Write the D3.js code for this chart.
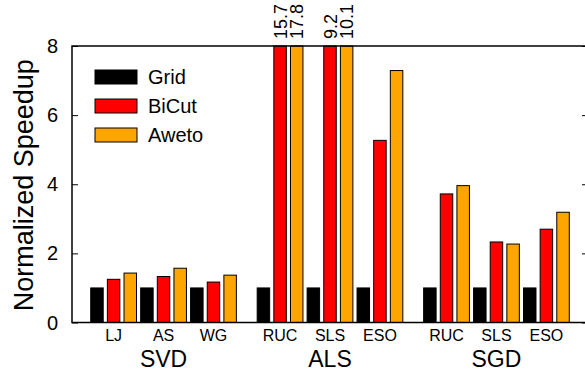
<!DOCTYPE html>
<html><head><meta charset="utf-8">
<script src="https://cdn.jsdelivr.net/npm/d3@7"></script>
<style>
html,body{margin:0;padding:0;background:#fff;}
svg{display:block;font-family:"Liberation Sans",Arial,Helvetica,sans-serif;}
</style></head>
<body><svg id="c" width="585" height="375"></svg>
<script>
const groups = ["SVD", "ALS", "SGD"];
const categories = [["LJ", "AS", "WG"], ["RUC", "SLS", "ESO"], ["RUC", "SLS", "ESO"]];
const seriesNames = ["Grid", "BiCut", "Aweto"];
const seriesColors = ["#000000", "#ff0000", "#ffa500"];
const grid  = [[1, 1, 1], [1, 1, 1], [1, 1, 1]];
const bicut = [[1.25, 1.33, 1.17], [15.7, 9.2, 5.27], [3.72, 2.33, 2.70]];
const aweto = [[1.43, 1.57, 1.37], [17.8, 10.1, 7.29], [3.96, 2.27, 3.19]];
const yTicks = [0, 2, 4, 6, 8];
const yMax = 8;

const series = [grid, bicut, aweto];
const svg = d3.select("#c");
const L = 72, R = 588, T = 46, B = 322.5;

// slot positions: each category takes 3 slots, each group 10 slots
const x = d3.scaleLinear().domain([-1.5, 29.5]).range([L, R]);
const y = d3.scaleLinear().domain([0, yMax]).range([B, T]);
const step = x(1) - x(0);
const bw = step * 0.75;

const bars = [];
groups.forEach((g, gi) => {
  categories[gi].forEach((c, ci) => {
    series.forEach((s, si) => {
      bars.push({g: gi, c: ci, s: si, v: s[gi][ci], slot: gi * 10 + ci * 3 + si});
    });
  });
});

svg.append("g").selectAll("rect").data(bars).join("rect")
  .attr("x", d => x(d.slot) - bw / 2)
  .attr("width", bw)
  .attr("y", d => y(Math.min(d.v, yMax)))
  .attr("height", d => y(0) - y(Math.min(d.v, yMax)))
  .attr("fill", d => seriesColors[d.s])
  .attr("stroke", "#000")
  .attr("stroke-width", 1);

// overflow labels
svg.append("g").selectAll("text").data(bars.filter(d => d.v > yMax)).join("text")
  .attr("transform", d => `translate(${x(d.slot) + 6.5},${T - 7}) rotate(-90)`)
  .attr("font-size", 18)
  .attr("fill", "#000")
  .text(d => d.v.toFixed(1));

// frame
svg.append("rect").attr("x", L).attr("y", T).attr("width", R - L).attr("height", B - T)
  .attr("fill", "none").attr("stroke", "#000").attr("stroke-width", 1.5);

// y axis (inward ticks, mirrored)
const yAxisL = d3.axisRight(y).tickValues(yTicks).tickSize(6).tickFormat("");
const gl = svg.append("g").attr("transform", `translate(${L},0)`).call(yAxisL);
gl.select(".domain").remove();
const yAxisR = d3.axisLeft(y).tickValues(yTicks).tickSize(6).tickFormat("");
const gr = svg.append("g").attr("transform", `translate(${R},0)`).call(yAxisR);
gr.select(".domain").remove();

svg.append("g").selectAll("text").data(yTicks).join("text")
  .attr("x", L - 14).attr("y", d => y(d))
  .attr("text-anchor", "end").attr("dominant-baseline", "central")
  .attr("font-size", 20).text(d => d);

// category labels
const catLabels = [];
groups.forEach((g, gi) => categories[gi].forEach((c, ci) => catLabels.push({t: c, slot: gi * 10 + ci * 3 + 1})));
svg.append("g").selectAll("text").data(catLabels).join("text")
  .attr("x", d => x(d.slot)).attr("y", 341)
  .attr("text-anchor", "middle").attr("font-size", 16).text(d => d.t);

svg.append("g").selectAll("text").data(groups).join("text")
  .attr("x", (d, i) => x(i * 10 + 4)).attr("y", 367)
  .attr("text-anchor", "middle").attr("font-size", 23).text(d => d);

// y label
svg.append("text").attr("transform", `translate(33,${(T + B) / 2 + 1}) rotate(-90)`)
  .attr("text-anchor", "middle").attr("font-size", 27).text("Normalized Speedup");

// legend
const lg = svg.append("g").selectAll("g").data(seriesNames).join("g")
  .attr("transform", (d, i) => `translate(95,${70 + i * 29})`);
lg.append("rect").attr("width", 42).attr("height", 14)
  .attr("fill", (d, i) => seriesColors[i]).attr("stroke", "#000").attr("stroke-width", 1);
lg.append("text").attr("x", 53).attr("y", 7).attr("dominant-baseline", "central")
  .attr("font-size", 20).text(d => d);
</script></body></html>
